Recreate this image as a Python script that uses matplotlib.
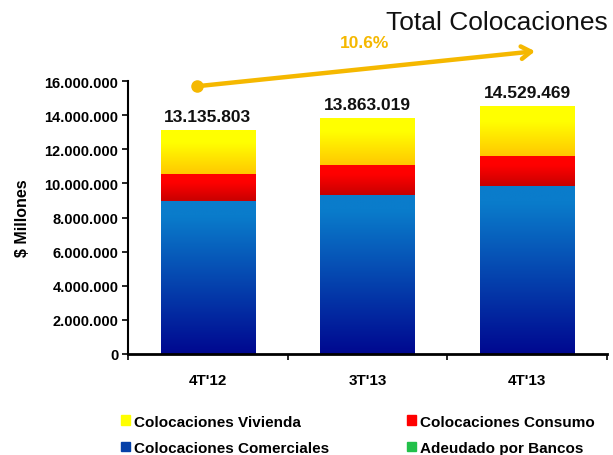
import numpy as np
import matplotlib.pyplot as plt
from matplotlib.patches import Rectangle
from matplotlib.ticker import FuncFormatter

periodos = ["4T'12", "3T'13", "4T'13"]
comerciales = [8980000, 9340000, 9850000]
consumo = [1570000, 1740000, 1750000]
vivienda = [2585803, 2783019, 2929469]
adeudado = [0, 0, 0]

series = ['Colocaciones Comerciales', 'Colocaciones Consumo',
          'Colocaciones Vivienda', 'Adeudado por Bancos']
# (color arriba, color abajo) de cada tramo
colores = {
    'Colocaciones Comerciales': ('#0a7ccb', '#000890'),
    'Colocaciones Consumo': ('#ff0000', '#c80000'),
    'Colocaciones Vivienda': ('#ffff00', '#ffc800'),
    'Adeudado por Bancos': ('#22c04a', '#008a30'),
}
valores = {
    'Colocaciones Comerciales': comerciales,
    'Colocaciones Consumo': consumo,
    'Colocaciones Vivienda': vivienda,
    'Adeudado por Bancos': adeudado,
}

plt.rcParams['font.family'] = ['Liberation Sans', 'DejaVu Sans']

fig = plt.figure(figsize=(6.13, 4.56), dpi=100)
ax = fig.add_axes([0.2088, 0.2215, 0.7812, 0.5985])

x = np.arange(len(periodos))
ancho = 0.59


def degradado(c_arriba, c_abajo, n=100, plano=0.25):
    a = np.array(plt.matplotlib.colors.to_rgb(c_arriba))
    b = np.array(plt.matplotlib.colors.to_rgb(c_abajo))
    t = np.linspace(0, 1, n)  # 0 abajo, 1 arriba
    t = np.clip(t / (1 - plano), 0, 1)
    return (b[None, :] * (1 - t[:, None]) + a[None, :] * t[:, None])[:, None, :]


base = np.zeros(len(periodos))
for s in series:
    v = np.array(valores[s], dtype=float)
    barras = ax.bar(x, v, ancho, bottom=base, color='none', linewidth=0)
    arriba, abajo = colores[s]
    plano = 0.1 if s == 'Colocaciones Comerciales' else 0.3
    img = degradado(arriba, abajo, plano=plano)
    for r, h in zip(barras.patches, v):
        if h <= 0:
            continue
        im = ax.imshow(img, extent=(r.get_x(), r.get_x() + r.get_width(),
                                    r.get_y(), r.get_y() + r.get_height()),
                       origin='lower', aspect='auto', interpolation='bilinear', zorder=2)
        im.set_clip_path(r)
    base += v

totales = base
for xi, t in zip(x, totales):
    ax.text(xi, t + 350000, f'{int(t):,}'.replace(',', '.'), ha='center', va='bottom',
            fontsize=12.5, fontweight='bold', color='#111111')

ax.set_xlim(-0.5, 2.5)
ax.set_ylim(0, 16000000)
ax.set_yticks(np.arange(0, 16000001, 2000000))
ax.yaxis.set_major_formatter(FuncFormatter(lambda v, p: f'{int(v):,}'.replace(',', '.')))
ax.set_xticks(x)
ax.set_xticklabels(periodos, fontsize=11, fontweight='bold')
ax.set_xticks([-0.5, 0.5, 1.5, 2.5], minor=True)
ax.tick_params(axis='x', which='major', length=0, pad=14)
ax.tick_params(axis='x', which='minor', length=4, width=1.2, direction='out')
ax.tick_params(axis='y', length=4, width=1.2, direction='out', labelsize=10.5, pad=3)
for lab in ax.get_yticklabels():
    lab.set_fontweight('bold')
ax.set_ylabel('$ Millones', fontsize=11.5, fontweight='bold', labelpad=10)
for lado in ['top', 'right']:
    ax.spines[lado].set_visible(False)
ax.spines['left'].set_linewidth(1.5)
ax.spines['bottom'].set_linewidth(2)

# flecha de crecimiento anual
crec = (totales[2] / totales[0] - 1) * 100
oro = '#f5b800'
ax.annotate('', xy=(2.05, 17750000), xytext=(-0.065, 15700000),
            arrowprops=dict(arrowstyle='->,head_length=0.7,head_width=0.45',
                            color=oro, lw=3.2, shrinkA=0, shrinkB=0),
            annotation_clip=False)
ax.plot([-0.065], [15700000], 'o', color=oro, markersize=8, clip_on=False)
ax.text(0.98, 18250000, f'{crec:.1f}%', color=oro, fontsize=12.5, fontweight='bold',
        ha='center', va='center')

fig.text(0.992, 0.95, 'Total Colocaciones', fontsize=19, ha='right', va='center',
         color='#111111')

orden = ['Colocaciones Vivienda', 'Colocaciones Comerciales',
         'Colocaciones Consumo', 'Adeudado por Bancos']
handles = [Rectangle((0, 0), 1, 1, color=colores[s][0] if s != 'Colocaciones Comerciales'
                     else '#0540a8') for s in orden]
leg = fig.legend(handles, orden, ncol=2, loc='lower left', bbox_to_anchor=(0.175, -0.03),
                 frameon=False, handlelength=0.6, handleheight=0.6, handletextpad=0.25,
                 columnspacing=5.1, labelspacing=0.8, prop={'weight': 'bold', 'size': 11})

fig.savefig('out.png', dpi=100)
